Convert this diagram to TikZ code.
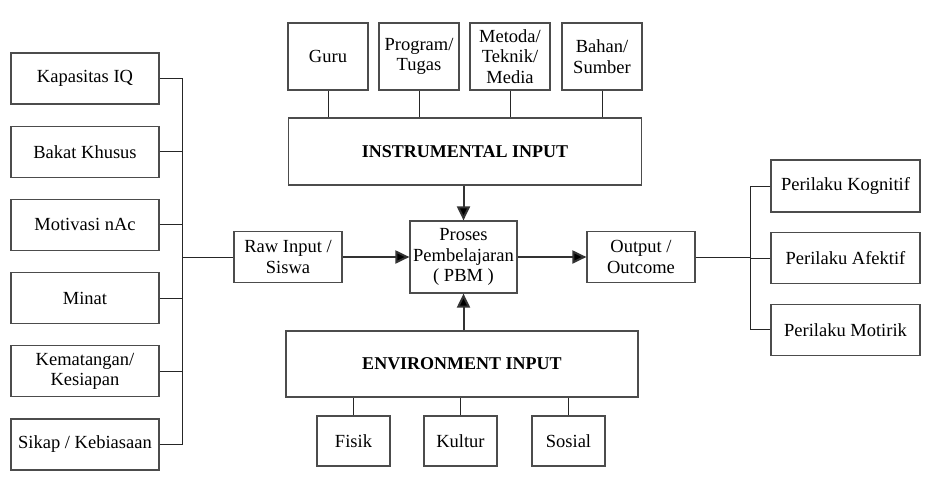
\documentclass[tikz,border=0pt]{standalone}
\usepackage{fontspec}
\setmainfont{Liberation Serif}
\usetikzlibrary{positioning,arrows.meta}

\tikzset{
	box/.style={draw=black!70, line width=1.2pt, align=center, inner sep=0pt,
		font=\fontsize{18.5}{20.5}\selectfont},
	sidebox/.style={box, minimum width=148pt, minimum height=51pt},
	topbox/.style={box, minimum width=80pt, minimum height=67pt},
	botbox/.style={box, minimum width=73pt, minimum height=50pt},
	midbox/.style={box, minimum width=108pt, minimum height=51pt},
	bigbox/.style={box, minimum width=353pt, minimum height=67pt, font=\fontsize{18}{20}\selectfont\bfseries},
	link/.style={draw=black!85, line width=1pt},
	arr/.style={draw=black!80, line width=2pt, -{Triangle[length=14pt,width=13pt,fill=black]}}
}

\begin{document}
\begin{tikzpicture}[x=1pt,y=-1pt]
		\useasboundingbox[fill=white] (0,0) rectangle (931,488);

		% left column
		\node[sidebox] (kapasitas) at (85,78.5) {Kapasitas IQ};
		\node[sidebox, below=21pt of kapasitas] (bakat) {Bakat Khusus};
		\node[sidebox, below=21pt of bakat] (motivasi) {Motivasi nAc};
		\node[sidebox, below=21pt of motivasi] (minat) {Minat};
		\node[sidebox, below=21pt of minat] (kematangan) {Kematangan/\\Kesiapan};
		\node[sidebox, below=21pt of kematangan] (sikap) {Sikap / Kebiasaan};

		% main row
		\node[midbox] (raw) at (288,257) {Raw Input /\\Siswa};
		\node[box, minimum width=107pt, minimum height=72pt] (proses) at (463.5,257)
		{Proses\\Pembelajaran\\( PBM )};
		\node[midbox] (output) at (641,257) {Output /\\Outcome};

		% right column
		\node[sidebox, minimum width=149pt, minimum height=52pt] (kognitif) at (845.5,186) {Perilaku Kognitif};
		\node[sidebox, minimum width=149pt, below=19.5pt of kognitif] (afektif) {Perilaku Afektif};
		\node[sidebox, minimum width=149pt, below=19.5pt of afektif] (motirik) {Perilaku Motirik};

		% instrumental input
		\node[bigbox] (instr) at (465,151.5) {INSTRUMENTAL INPUT};
		\node[topbox] (guru) at (328,56.5) {Guru};
		\node[topbox] (program) at (419,56.5) {Program/\\Tugas};
		\node[topbox] (metoda) at (510,56.5) {Metoda/\\Teknik/\\Media};
		\node[topbox] (bahan) at (602,56.5) {Bahan/\\Sumber};

		% environment input
		\node[bigbox, minimum width=352pt, minimum height=66pt] (env) at (462,364) {ENVIRONMENT INPUT};
		\node[botbox] (fisik) at (353.5,441) {Fisik};
		\node[botbox] (kultur) at (460.5,441) {Kultur};
		\node[botbox] (sosial) at (568.5,441) {Sosial};

		\coordinate (lbus) at (182,257);
		\coordinate (rbus) at (750,257);

		\foreach \n in {kapasitas,bakat,motivasi,minat,kematangan,sikap}
			\draw[link] (\n.east) -| (lbus);
		\draw[link] (lbus) -- (raw.west);

		\draw[link] (output.east) -- (rbus);
		\foreach \n in {kognitif,afektif,motirik}
			\draw[link] (\n.west) -| (rbus);

		\foreach \n in {guru,program,metoda,bahan}
			\draw[link] (\n.south) -- (\n.south |- instr.north);
		\foreach \n in {fisik,kultur,sosial}
			\draw[link] (\n.north) -- (\n.north |- env.south);

		\path[arr] (raw) edge (proses);
		\path[arr] (proses) edge (output);
		\draw[arr] (proses.north |- instr.south) -- (proses.north);
		\draw[arr] (proses.south |- env.north) -- (proses.south);

\end{tikzpicture}
\end{document}
